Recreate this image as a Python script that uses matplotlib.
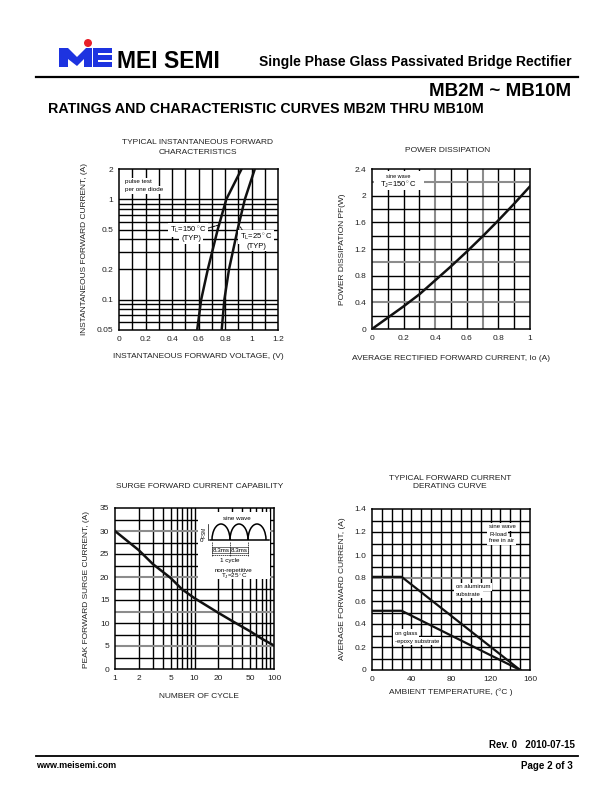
import matplotlib.pyplot as plt
from matplotlib.patches import Polygon, Circle, Rectangle, Arc
import numpy as np

plt.rcParams['font.family'] = ['Liberation Sans', 'DejaVu Sans']
plt.rcParams['mathtext.fontset'] = 'custom'
plt.rcParams['mathtext.rm'] = 'Liberation Sans'
plt.rcParams['mathtext.it'] = 'Liberation Sans:italic'

# --- data ---
vf_150 = [0.59, 0.62, 0.67, 0.745, 0.81, 0.925]
if_150 = [0.05, 0.1, 0.2, 0.5, 1.0, 2.0]
vf_25 = [0.775, 0.795, 0.83, 0.895, 0.95, 1.025]
if_25 = [0.05, 0.1, 0.2, 0.5, 1.0, 2.0]

io_avg = [0, 0.1, 0.2, 0.3, 0.4, 0.5, 0.6, 0.7, 0.8, 0.9, 1.0]
p_diss = [0, 0.17, 0.34, 0.52, 0.73, 0.94, 1.16, 1.39, 1.63, 1.88, 2.14]

cycles = [1, 2, 3, 5, 7, 10, 20, 30, 50, 70, 100]
i_surge = [30, 25.8, 22.8, 19.8, 17.3, 15.4, 12.2, 10.4, 8.2, 6.6, 5.1]

t_amb = [0, 30, 150]
i_alum = [0.81, 0.81, 0]
i_glass = [0.515, 0.515, 0]

W, H = 612, 792
fig = plt.figure(figsize=(W / 100, H / 100), dpi=100)


def box(l, t, r, b):
    return [l / W, 1 - b / H, (r - l) / W, (b - t) / H]


def grid(ax, xs, ys, gx=(), gy=()):
    for x in xs:
        g = any(np.isclose(x, v) for v in gx)
        ax.axvline(x, color='#8c8c8c' if g else 'black', lw=1.5 if g else 1.0, zorder=1)
    for y in ys:
        g = any(np.isclose(y, v) for v in gy)
        ax.axhline(y, color='#8c8c8c' if g else 'black', lw=1.5 if g else 1.0, zorder=1)


def style(ax):
    for s in ax.spines.values():
        s.set_linewidth(1.1)
    ax.tick_params(length=0, pad=4, labelsize=6, labelcolor='#222222')


# ---- chart 1: forward characteristics ----
ax1 = fig.add_axes(box(119, 169, 278, 330))
ax1.set_yscale('log')
ax1.set_xlim(0, 1.2)
ax1.set_ylim(0.05, 2)
grid(ax1, np.arange(0.1, 1.2, 0.1),
     [0.06, 0.07, 0.08, 0.09, 0.1, 0.2, 0.3, 0.4, 0.5, 0.6, 0.7, 0.8, 0.9, 1.0])
ax1.plot(vf_150, if_150, color='#111111', lw=1.8, zorder=3)
ax1.plot(vf_25, if_25, color='#111111', lw=1.8, zorder=3)
ax1.set_xticks([0, 0.2, 0.4, 0.6, 0.8, 1.0, 1.2])
ax1.set_xticklabels(['0', '0.2', '0.4', '0.6', '0.8', '1', '1.2'])
ax1.set_yticks([0.05, 0.1, 0.2, 0.5, 1, 2])
ax1.set_yticklabels(['0.05', '0.1', '0.2', '0.5', '1', '2'])
ax1.minorticks_off()
style(ax1)

# ---- chart 2: power dissipation ----
ax2 = fig.add_axes(box(372, 169, 530, 329))
ax2.set_xlim(0, 1)
ax2.set_ylim(0, 2.4)
grid(ax2, np.arange(0.1, 1.0, 0.1), np.arange(0.2, 2.4, 0.2), gx=[0.4, 0.7], gy=[0.4, 1.0, 2.2])
ax2.plot(io_avg, p_diss, color='#111111', lw=1.8, zorder=3)
ax2.set_xticks([0, 0.2, 0.4, 0.6, 0.8, 1.0])
ax2.set_xticklabels(['0', '0.2', '0.4', '0.6', '0.8', '1'])
ax2.set_yticks([0, 0.4, 0.8, 1.2, 1.6, 2.0, 2.4])
ax2.set_yticklabels(['0', '0.4', '0.8', '1.2', '1.6', '2', '2.4'])
style(ax2)

# ---- chart 3: surge current ----
ax3 = fig.add_axes(box(115, 508, 274, 669))
ax3.set_xscale('log')
ax3.set_xlim(1, 100)
ax3.set_ylim(0, 35)
grid(ax3, [2, 3, 4, 5, 6, 7, 8, 9, 10, 20, 30, 40, 50, 60, 70, 80, 90],
     np.arange(2.5, 35, 2.5), gy=[5, 12.5, 20, 30])
ax3.plot(cycles, i_surge, color='#111111', lw=1.8, zorder=3)
ax3.set_xticks([1, 2, 5, 10, 20, 50, 100])
ax3.set_xticklabels(['1', '2', '5', '10', '20', '50', '100'])
ax3.minorticks_off()
ax3.set_yticks(range(0, 36, 5))
style(ax3)

# ---- chart 4: derating ----
ax4 = fig.add_axes(box(372, 509, 530, 670))
ax4.set_xlim(0, 160)
ax4.set_ylim(0, 1.4)
grid(ax4, np.arange(10, 160, 10), np.arange(0.1, 1.4, 0.1), gy=[0.8])
ax4.plot(t_amb, i_alum, color='#111111', lw=1.6, zorder=3)
ax4.plot(t_amb, i_glass, color='#111111', lw=1.6, zorder=3)
ax4.set_xticks([0, 40, 80, 120, 160])
ax4.set_yticks([0, 0.2, 0.4, 0.6, 0.8, 1.0, 1.2, 1.4])
ax4.set_yticklabels(['0', '0.2', '0.4', '0.6', '0.8', '1.0', '1.2', '1.4'])
style(ax4)

# ---- inset waveform in chart 3 ----
ins = fig.add_axes(box(198, 512, 270, 579))
ins.set_xlim(198, 270)
ins.set_ylim(579, 512)
ins.axis('off')
ins.add_patch(Rectangle((198, 512), 72, 67, facecolor='white', edgecolor='none'))
for cx in [221, 239, 257]:
    ins.add_patch(Arc((cx, 540), 18, 32, theta1=180, theta2=360, color='black', lw=1.1))
ins.plot([210, 269], [540, 540], color='black', lw=1.1)
ins.plot([208, 208], [524, 540], color='black', lw=0.5)
for vx in [212, 230, 248]:
    ins.plot([vx, vx], [542, 556], color='black', lw=0.5, ls=(0, (2, 1)))
ins.plot([212, 248], [555, 555], color='black', lw=0.5, ls=(0, (2, 1)))
ins.text(237, 518, 'sine wave', fontsize=4.5, ha='center', va='center')
ins.text(204.5, 532, 'IFSM', fontsize=3.3, rotation=90, ha='center', va='center')
ins.text(202, 540, '0', fontsize=4.5, ha='center', va='center')
for cx in [221, 239]:
    ins.text(cx, 550, '8.3ms', fontsize=4.5, ha='center', va='center',
             bbox=dict(facecolor='white', edgecolor='black', lw=0.4, pad=0.6))
ins.text(230, 560, '1 cycle', fontsize=4.5, ha='center', va='center')
ins.text(234, 570, 'non-repetitive', fontsize=4.5, ha='center', va='center')
ins.text(234, 576, 'T$_\\mathrm{J}$=25$^\\circ$C', fontsize=4.5, ha='center', va='center')

# ---- page overlay (all page text) ----
page = fig.add_axes([0, 0, 1, 1])
page.set_xlim(0, W)
page.set_ylim(H, 0)
page.axis('off')

blue = '#1d33e0'
page.add_patch(Polygon([(59, 48), (68, 48), (77, 57), (86, 48), (92, 48), (92, 67),
                        (84, 67), (84, 59), (77, 66), (68, 59), (68, 67), (59, 67)],
                       closed=True, facecolor=blue, edgecolor='none'))
for y0 in [48, 55, 62]:
    page.add_patch(Rectangle((96, y0), 16, 5, facecolor=blue, edgecolor='none'))
page.add_patch(Rectangle((93, 48), 5, 19, facecolor=blue, edgecolor='none'))
page.add_patch(Circle((88, 43), 4, facecolor='#e8202a', edgecolor='none'))
page.text(117, 62, 'MEI SEMI', fontsize=16.5, weight='bold', va='center', ha='left')
page.text(572, 62, 'Single Phase Glass Passivated Bridge Rectifier', fontsize=10,
          weight='bold', va='center', ha='right')
page.plot([36, 578], [77, 77], color='black', lw=1.6)
page.text(571, 92, 'MB2M ~ MB10M', fontsize=13.5, weight='bold', va='center', ha='right')
page.text(48, 109, 'RATINGS AND CHARACTERISTIC CURVES MB2M THRU MB10M', fontsize=10.3,
          weight='bold', va='center', ha='left')

tkw = dict(fontsize=6, ha='center', va='center', color='#222222')
page.text(198, 143, 'TYPICAL INSTANTANEOUS FORWARD', **tkw)
page.text(198, 152, 'CHARACTERISTICS', **tkw)
page.text(198, 357, 'INSTANTANEOUS FORWARD VOLTAGE, (V)', **tkw)
page.text(85, 249, 'INSTANTANEOUS FORWARD CURRENT, (A)', rotation=90, **tkw)

page.text(448, 150, 'POWER DISSIPATION', **tkw)
page.text(451, 358, 'AVERAGE RECTIFIED FORWARD CURRENT, Io (A)', **tkw)
page.text(343, 249, 'POWER DISSIPATION PF(W)', rotation=90, **tkw)

page.text(200, 487, 'SURGE FORWARD CURRENT CAPABILITY', **tkw)
page.text(199, 697, 'NUMBER OF CYCLE', **tkw)
page.text(86, 589, 'PEAK FORWARD SURGE CURRENT, (A)', rotation=90, **tkw)

page.text(450, 478, 'TYPICAL FORWARD CURRENT', **tkw)
page.text(450, 487, 'DERATING CURVE', **tkw)
page.text(451, 692, 'AMBIENT TEMPERATURE, (\u00b0C )', **tkw)
page.text(343, 589, 'AVERAGE FORWARD CURRENT, (A)', rotation=90, **tkw)

# in-chart notes
wb = dict(facecolor='white', edgecolor='none', pad=1.2)
page.text(125, 182, 'pulse test', fontsize=4.5, ha='left', va='center', bbox=wb)
page.text(125, 190, 'per one diode', fontsize=4.5, ha='left', va='center', bbox=wb)
page.text(188, 230, 'T$_\\mathrm{L}$=150$^\\circ$C', fontsize=5.5, ha='center', va='center', bbox=wb)
page.text(191, 239, '(TYP)', fontsize=5.5, ha='center', va='center', bbox=wb)
page.text(256, 237, 'T$_\\mathrm{L}$=25$^\\circ$C', fontsize=5.5, ha='center', va='center', bbox=wb)
page.text(256, 246, '(TYP)', fontsize=5.5, ha='center', va='center', bbox=wb)
ax1.annotate('', xy=(0.765, 0.56), xycoords='data', xytext=(205, 229), textcoords=page.transData,
             arrowprops=dict(arrowstyle='-', color='black', lw=0.7, ls=(0, (2, 1))))
ax1.annotate('', xy=(0.905, 0.56), xycoords='data', xytext=(244, 233), textcoords=page.transData,
             arrowprops=dict(arrowstyle='-', color='black', lw=0.7, ls=(0, (2, 1))))

page.add_patch(Rectangle((374, 171), 50, 19, facecolor='white', edgecolor='none'))
page.text(398, 177, 'sine wave', fontsize=4, ha='center', va='center')
page.text(398, 185, 'T$_\\mathrm{J}$=150$^\\circ$C', fontsize=5.5, ha='center', va='center')

page.text(489, 527, 'sine wave', fontsize=4.3, ha='left', va='center', bbox=wb)
page.text(489, 534, 'R-load', fontsize=4.3, ha='left', va='center', bbox=wb)
page.text(489, 541, 'free in air', fontsize=4.3, ha='left', va='center', bbox=wb)
page.text(456, 587, 'on aluminum', fontsize=4.3, ha='left', va='center', bbox=wb)
page.text(456, 594, 'substrate', fontsize=4.3, ha='left', va='center', bbox=wb)
page.text(395, 633, 'on glass', fontsize=4.3, ha='left', va='center', bbox=wb)
page.text(395, 641, '-epoxy substrate', fontsize=4.3, ha='left', va='center', bbox=wb)

# footer
page.text(575, 745, 'Rev. 0   2010-07-15', fontsize=7, weight='bold', ha='right', va='center')
page.plot([36, 578], [756, 756], color='black', lw=1.3)
page.text(36, 766, 'www.meisemi.com', fontsize=6.5, weight='bold', ha='left', va='center')
page.text(573, 766, 'Page 2 of 3', fontsize=7, weight='bold', ha='right', va='center')

fig.savefig('out.png', dpi=100)
